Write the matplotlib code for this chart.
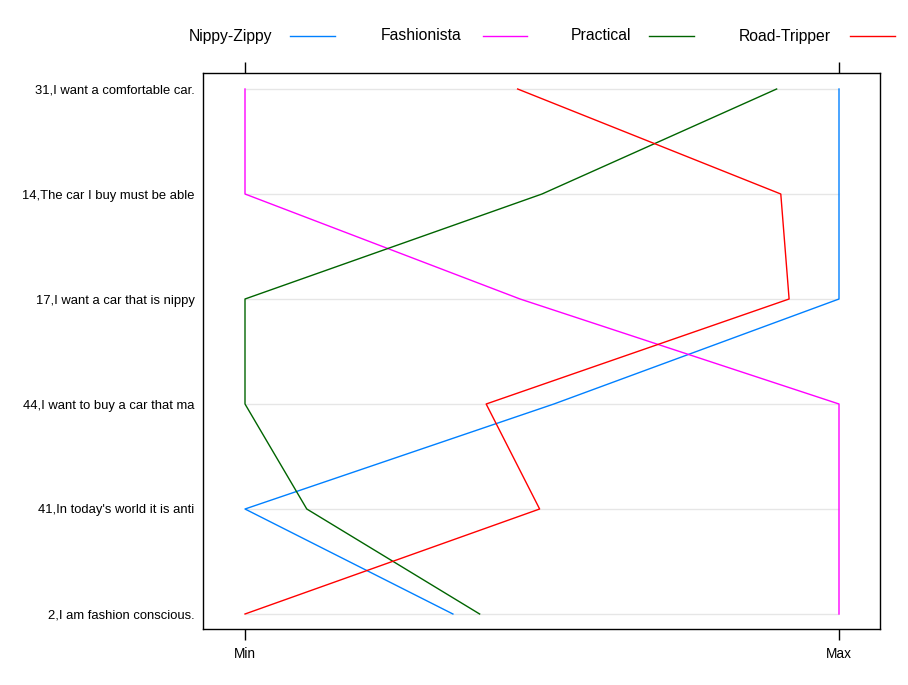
import matplotlib
matplotlib.use("Agg")
import matplotlib.pyplot as plt
from matplotlib.lines import Line2D

plt.rcParams['font.family'] = ['Liberation Sans', 'DejaVu Sans']

categories = ["2,I am fashion conscious.", "41,In today's world it is anti",
              "44,I want to buy a car that ma", "17,I want a car that is nippy",
              "14,The car I buy must be able", "31,I want a comfortable car."]
series_names = ["Nippy-Zippy", "Fashionista", "Practical", "Road-Tripper"]
nippy_zippy = [0.35, 0.0, 0.52, 1.0, 1.0, 1.0]
fashionista = [1.0, 1.0, 1.0, 0.463, 0.0, 0.0]
practical = [0.395, 0.104, 0.0, 0.0, 0.50, 0.895]
road_tripper = [0.0, 0.496, 0.406, 0.916, 0.902, 0.459]
colors = ["#0080ff", "#ff00ff", "#006400", "#ff0000"]
x_tick_labels = ["Min", "Max"]

fig = plt.figure(figsize=(9.08, 6.85), dpi=100)
ax = fig.add_axes([203/908, 1-629/685, 677/908, 556/685])

ypos = list(range(len(categories)))
ax.hlines(ypos, 0, 1, color="#e6e6e6", lw=1, zorder=1)
for vals, c in zip([nippy_zippy, fashionista, practical, road_tripper], colors):
    ax.plot(vals, ypos, color=c, lw=1, zorder=2)

ax.set_xlim(-42/594, 1 + 41/594)
ax.set_ylim(-15/105, 5 + 16/105)
ax.set_yticks(ypos)
ax.set_yticklabels(categories, fontsize=9.4)
ax.tick_params(axis='y', length=0, pad=6)
ax.set_xticks([0, 1])
ax.set_xticklabels(x_tick_labels, fontsize=9.8)
ax.tick_params(axis='x', top=True, bottom=True, direction='out', length=8, pad=5, width=1)
for s in ax.spines.values():
    s.set_linewidth(1)

# legend across the top
text_x = [272, 461, 631, 831]
line_x = [(290, 335), (483, 527), (649, 694), (850, 895)]
ly = 1 - 36/685
for name, c, tx, (l0, l1) in zip(series_names, colors, text_x, line_x):
    fig.text(tx/908, ly, name, ha='right', va='center', fontsize=11.3)
    fig.add_artist(Line2D([l0/908, l1/908], [ly, ly], color=c, lw=1,
                          transform=fig.transFigure))

fig.savefig("out.png", dpi=100)
